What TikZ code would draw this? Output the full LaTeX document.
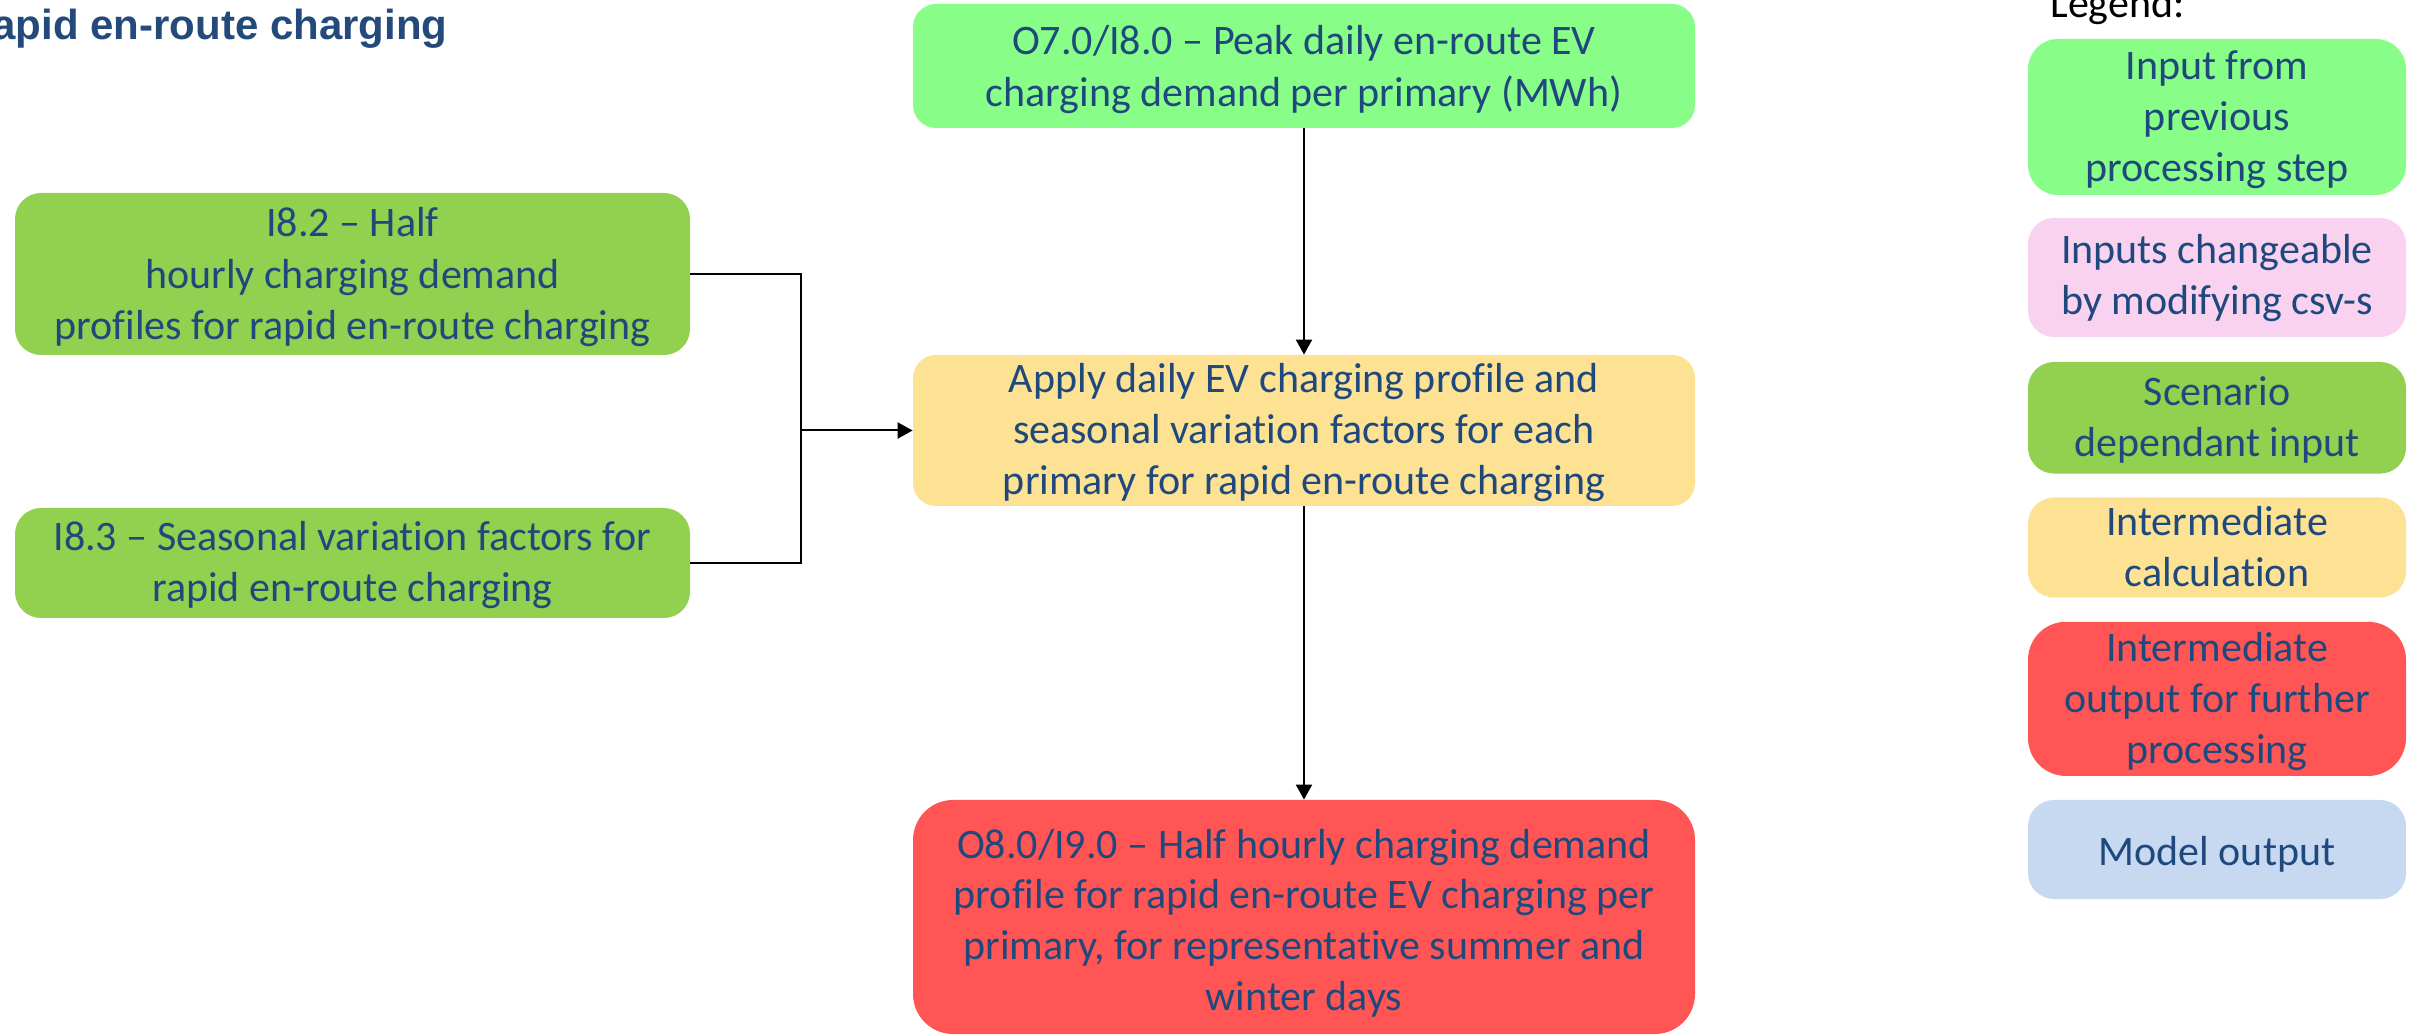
\documentclass[tikz,border=0pt]{standalone}
\usepackage{fontspec}
\setmainfont{Carlito}[Ligatures={NoCommon}]
\newfontfamily\titlefont{Liberation Sans}
\usetikzlibrary{arrows.meta}
\definecolor{txtblue}{HTML}{1F497D}
\definecolor{ttlblue}{HTML}{244A7C}
\definecolor{prevgreen}{HTML}{88FE88}
\definecolor{csvpink}{HTML}{F9D2F0}
\definecolor{scengreen}{HTML}{92D050}
\definecolor{calcyellow}{HTML}{FDE294}
\definecolor{outred}{HTML}{FF5555}
\definecolor{modelblue}{HTML}{C6D9F0}
\tikzset{
  box/.style={draw=none, rounded corners=11.5pt, inner sep=0pt, align=center,
    text=txtblue, font=\fontsize{21}{25.5}\selectfont},
  tb/.style 2 args={text height=#1pt, text depth=#2pt},
  mainbox/.style={box, minimum width=391pt},
  legbox/.style={box, minimum width=189pt, rounded corners=13pt},
  conn/.style={line width=1pt, draw=black},
  arr/.style={conn, -{Triangle[length=7.5pt,width=8pt]}}
}
\begin{document}
\begin{tikzpicture}[x=1pt,y=-1pt]
\useasboundingbox (0,0) rectangle (1205,518);
% title
\node[anchor=base west, inner sep=0pt, text=ttlblue, font=\titlefont\bfseries\fontsize{21}{25}\selectfont] (title) at (-4,20) {apid en-route charging};
% main flow
\node[mainbox, fill=prevgreen, tb={51.5}{10.5}, font=\fontsize{21}{26}\selectfont] (peak) at (652,33)
  {O7.0/I8.0 -- Peak daily en-route EV\\charging demand per primary (MWh)};
\node[mainbox, fill=calcyellow, tb={70}{5.5}] (apply) at (652,215.25)
  {Apply daily EV charging profile and\\seasonal variation factors for each\\primary for rapid en-route charging};
\node[mainbox, fill=outred, tb={105}{12}, rounded corners=20pt, font=\fontsize{21}{25.3}\selectfont] (out) at (652,458.5)
  {O8.0/I9.0 -- Half hourly charging demand\\profile for rapid en-route EV charging per\\primary, for representative summer and\\winter days};
\node[box, fill=scengreen, minimum width=337.5pt, tb={73.5}{7.5}, rounded corners=13pt, font=\fontsize{21}{25.75}\selectfont] (i82) at (176.25,137)
  {I8.2 -- Half\\hourly charging demand\\profiles for rapid en-route charging};
\node[box, fill=scengreen, minimum width=337.5pt, tb={47}{8}, rounded corners=13pt] (i83) at (176.25,281.5)
  {I8.3 -- Seasonal variation factors for\\rapid en-route charging};
\coordinate (jn) at (400.5,215.25);
\draw[conn] (i82.east) -| (jn);
\draw[conn] (i83.east) -| (jn);
\draw[arr] (jn) -- (apply.west);
\draw[arr] (peak.south) -- (apply.north);
\draw[arr] (apply.south) -- (out.north);
% legend
\node[anchor=base west, inner sep=0pt, text=black, font=\fontsize{21}{25.5}\selectfont] (leg) at (1025,9) {Legend:};
\node[legbox, fill=prevgreen, tb={71.5}{6.5}, rounded corners=15pt] (l1) at (1108.5,58.5) {Input from\\previous\\processing step};
\node[legbox, fill=csvpink, tb={48.5}{11}] (l2) at (1108.5,138.75) {Inputs changeable\\by modifying csv-s};
\node[legbox, fill=scengreen, tb={47.2}{8.6}] (l3) at (1108.5,208.9) {Scenario\\dependant input};
\node[legbox, fill=calcyellow, tb={44.65}{5.35}] (l4) at (1108.5,273.75) {Intermediate\\calculation};
\node[legbox, fill=outred, tb={70.9}{6.2}, rounded corners=19pt] (l5) at (1108.5,349.45) {Intermediate\\output for further\\processing};
\node[legbox, fill=modelblue, tb={32.5}{17}] (l6) at (1108.5,424.75) {Model output};
\end{tikzpicture}
\end{document}
